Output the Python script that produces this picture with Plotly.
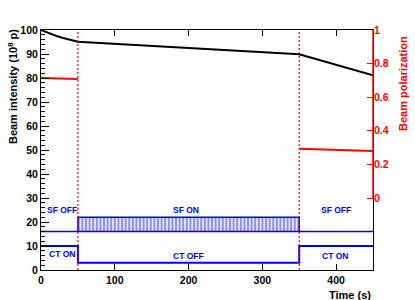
import plotly.graph_objects as go

# ---- data ----
int_time = [0, 10, 20, 30, 40, 50, 350, 450]
intensity = [100, 98.7, 97.6, 96.7, 95.8, 95.1, 89.9, 81.1]

pol1_time = [0, 50]
pol1 = [0.714, 0.708]
pol2_time = [350, 450]
pol2 = [0.293, 0.280]

switch_times = [50, 350]

ct_time = [0, 50, 350, 450]
ct_level = [10, 3, 10, 10]

sf_off_time = [0, 50, None, 350, 450]
sf_off_level = [16, 16, None, 16, 16]
sf_on_start, sf_on_end = 50, 350
sf_on_low, sf_on_high = 16, 22

labels = ["SF OFF", "CT ON", "SF ON", "CT OFF", "SF OFF", "CT ON"]
label_x = [28, 28, 197, 200, 400, 399]
label_y = [25, 6.5, 25, 6, 25, 6]

x_ticks = [0, 100, 200, 300, 400]
y_ticks = [0, 10, 20, 30, 40, 50, 60, 70, 80, 90, 100]
pol_ticks = [0, 0.2, 0.4, 0.6, 0.8, 1]

BLUE = "#0000ff"
RED = "#ff0000"
FONT = "Liberation Sans"

fig = go.Figure()

# SF ON hatched block
fig.add_trace(go.Bar(
    x=[(sf_on_start + sf_on_end) / 2], y=[sf_on_high - sf_on_low], base=[sf_on_low],
    width=[sf_on_end - sf_on_start],
    marker=dict(color="white",
                pattern=dict(shape="|", fgcolor=BLUE, bgcolor="#e6e6ff", size=3.6, solidity=0.4),
                line=dict(color=BLUE, width=1.5)),
    showlegend=False, hoverinfo="skip"))

fig.add_trace(go.Scatter(x=sf_off_time, y=sf_off_level, mode="lines",
                         line=dict(color=BLUE, width=1.5), showlegend=False))
fig.add_trace(go.Scatter(x=ct_time, y=ct_level, mode="lines", line_shape="hv",
                         line=dict(color=BLUE, width=2), showlegend=False))

fig.add_trace(go.Scatter(x=int_time, y=intensity, mode="lines",
                         line=dict(color="black", width=2), showlegend=False))

fig.add_trace(go.Scatter(x=pol1_time, y=pol1, mode="lines", yaxis="y2",
                         line=dict(color=RED, width=2), showlegend=False))
fig.add_trace(go.Scatter(x=pol2_time, y=pol2, mode="lines", yaxis="y2",
                         line=dict(color=RED, width=2), showlegend=False))

for t in switch_times:
    fig.add_shape(type="line", x0=t, x1=t, y0=0, y1=100, xref="x", yref="y",
                  line=dict(color=RED, width=1.2, dash="2px,2px"))

# red right axis line (0..1)
fig.add_shape(type="line", x0=1, x1=1, y0=0, y1=1, xref="paper", yref="y2",
              line=dict(color=RED, width=1.5), layer="above")

for txt, xx, yy in zip(labels, label_x, label_y):
    fig.add_annotation(x=xx, y=yy, xref="x", yref="y", text=txt, showarrow=False,
                       font=dict(family=FONT, size=8.5, color=BLUE, weight="bold"))

# axis titles
fig.add_annotation(x=1, y=-0.07, xref="paper", yref="paper", text="Time (s)",
                   showarrow=False, xanchor="right", yanchor="top",
                   font=dict(family=FONT, size=11, color="black", weight="bold"))
fig.add_annotation(x=-0.086, y=1.012, xref="paper", yref="paper",
                   text="Beam intensity (10<sup>8</sup> p)", textangle=-90,
                   showarrow=False, xanchor="center", yanchor="top",
                   font=dict(family=FONT, size=11, color="black", weight="bold"))
fig.add_annotation(x=1.09, y=0.985, xref="paper", yref="paper",
                   text="Beam polarization", textangle=-90,
                   showarrow=False, xanchor="center", yanchor="top",
                   font=dict(family=FONT, size=11, color=RED, weight="bold"))

fig.update_layout(
    width=415, height=300,
    margin=dict(l=41, r=42, t=30, b=30),
    plot_bgcolor="white", paper_bgcolor="white",
    showlegend=False, hovermode=False,
    xaxis=dict(range=[0, 450], tickvals=x_ticks, ticks="inside", ticklen=6,
               tickcolor="black", showline=True, linecolor="black", linewidth=1,
               mirror="ticks", showgrid=False, zeroline=False,
               tickfont=dict(family=FONT, size=10.5, color="black", weight="bold")),
    yaxis=dict(range=[0, 100], tickvals=y_ticks, ticks="inside", ticklen=8,
               tickcolor="black", showline=True, linecolor="black", linewidth=1,
               mirror=True, showgrid=False, zeroline=False,
               minor=dict(dtick=2, ticks="inside", ticklen=4, tickcolor="black"),
               tickfont=dict(family=FONT, size=10.5, color="black", weight="bold")),
    yaxis2=dict(range=[-0.4286, 1], overlaying="y", side="right", tickvals=pol_ticks,
                ticks="inside", ticklen=6, tickcolor=RED, showline=False,
                showgrid=False, zeroline=False,
                tickfont=dict(family=FONT, size=10.5, color=RED, weight="bold")),
)

fig.write_html("out.html", config={"displayModeBar": False},
               post_script="document.body.style.margin='0';document.body.style.overflow='hidden';")
